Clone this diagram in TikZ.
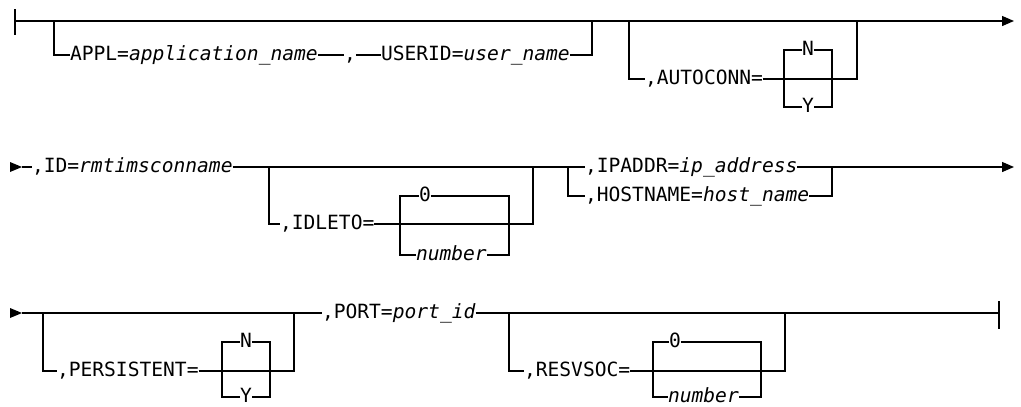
\documentclass[tikz,border=0pt]{standalone}
\usepackage{fontspec}
\setmonofont{DejaVu Sans Mono}
\usetikzlibrary{arrows.meta}
\begin{document}
\begin{tikzpicture}[x=1pt,y=-1pt,
  lbl/.style={font=\ttfamily\fontsize{19.6}{22}\selectfont, inner sep=0pt, outer sep=0pt,
    anchor=west, text height=10pt, text depth=0pt},
  ctr/.style={lbl, anchor=center},
  ln/.style={line width=1.3pt, line join=miter},
  tip/.style={ln, -{Triangle[length=12pt,width=10pt]}}]
\useasboundingbox (0,0) rectangle (1021,407);

% ---------------- Row 1 ----------------
\coordinate (r1bt) at (15,9);
\coordinate (r1bb) at (15,35);
\coordinate (r1s) at (15,21);
\coordinate (r1e) at (1014,21);
\draw[ln] (r1bt) -- (r1bb);
\draw[tip] (r1s) -- (r1e);

% APPL / USERID branch
\coordinate (a1) at (54,21);
\coordinate (a2) at (592,21);
\node[lbl] (appl) at (70,55) {APPL=\textit{application\_name}};
\node[lbl] (comma) at (344,55) {,};
\node[lbl] (userid) at (381,55) {USERID=\textit{user\_name}};
\draw[ln] (a1) |- (appl.west);
\draw[ln] (appl.east) -- (comma.west);
\draw[ln] (comma.east) -- (userid.west);
\draw[ln] (userid.east) -| (a2);

% AUTOCONN branch
\coordinate (b1) at (629,21);
\coordinate (b2) at (857,21);
\node[lbl] (autoconn) at (645,79) {,AUTOCONN=};
\coordinate (bml) at (784,79);
\coordinate (bmr) at (832,79);
\coordinate (btl) at (784,50);
\coordinate (bbl) at (784,107);
\coordinate (btr) at (832,50);
\coordinate (bbr) at (832,107);
\node[ctr] (bn) at (808,50) {N};
\node[ctr] (by) at (808,107) {Y};
\draw[ln] (b1) |- (autoconn.west);
\draw[ln] (autoconn.east) -- (bml) -- (bmr) -| (b2);
\draw[ln] (bn.west) -- (btl) -- (bbl) -- (by.west);
\draw[ln] (bn.east) -- (btr) -- (bbr) -- (by.east);

% ---------------- Row 2 ----------------
\coordinate (r2a) at (10,162);
\coordinate (r2b) at (10,172);
\coordinate (r2c) at (22,167);
\fill (r2a) -- (r2c) -- (r2b) -- cycle;
\node[lbl] (id) at (32,167) {,ID=\textit{rmtimsconname}};
\draw[ln] (r2c) -- (id.west);
\coordinate (c1) at (269,167);
\coordinate (c2) at (533,167);
\coordinate (d1) at (568,167);
\coordinate (d2) at (832,167);
\node[lbl] (ipaddr) at (585,167) {,IPADDR=\textit{ip\_address}};
\node[lbl] (hostname) at (585,196) {,HOSTNAME=\textit{host\_name}};
\coordinate (r2e) at (1014,167);
\draw[ln] (id.east) -- (c1) -- (c2) -- (d1) -- (ipaddr.west);
\draw[tip] (ipaddr.east) -- (r2e);
\draw[ln] (d1) |- (hostname.west);
\draw[ln] (hostname.east) -| (d2);

% IDLETO branch
\node[lbl] (idleto) at (280,224) {,IDLETO=};
\coordinate (cml) at (400,224);
\coordinate (cmr) at (509,224);
\coordinate (ctl) at (400,196);
\coordinate (cbl) at (400,255);
\coordinate (ctr) at (509,196);
\coordinate (cbr) at (509,255);
\node[lbl] (czero) at (419,196) {0};
\node[lbl] (cnum) at (416,255) {\textit{number}};
\draw[ln] (c1) |- (idleto.west);
\draw[ln] (idleto.east) -- (cml) -- (cmr) -| (c2);
\draw[ln] (czero.west) -- (ctl) -- (cbl) -- (cnum.west);
\draw[ln] (czero.east) -- (ctr) -- (cbr) -- (cnum.east);

% ---------------- Row 3 ----------------
\coordinate (r3a) at (10,308);
\coordinate (r3b) at (10,318);
\coordinate (r3c) at (22,313);
\fill (r3a) -- (r3c) -- (r3b) -- cycle;
\coordinate (e1) at (43,313);
\coordinate (e2) at (294,313);
\node[lbl] (port) at (322,313) {,PORT=\textit{port\_id}};
\draw[ln] (r3c) -- (e1) -- (e2) -- (port.west);
\coordinate (f1) at (509,313);
\coordinate (f2) at (785,313);
\coordinate (r3e) at (999,313);
\coordinate (r3bt) at (999,301);
\coordinate (r3bb) at (999,329);
\draw[ln] (port.east) -- (f1) -- (f2) -- (r3e);
\draw[ln] (r3bt) -- (r3bb);

% PERSISTENT branch
\node[lbl] (persist) at (57,371) {,PERSISTENT=};
\coordinate (eml) at (222,371);
\coordinate (emr) at (270,371);
\coordinate (etl) at (222,342);
\coordinate (ebl) at (222,397);
\coordinate (etr) at (270,342);
\coordinate (ebr) at (270,397);
\node[ctr] (en) at (246,342) {N};
\node[ctr] (ey) at (246,397) {Y};
\draw[ln] (e1) |- (persist.west);
\draw[ln] (persist.east) -- (eml) -- (emr) -| (e2);
\draw[ln] (en.west) -- (etl) -- (ebl) -- (ey.west);
\draw[ln] (en.east) -- (etr) -- (ebr) -- (ey.east);

% RESVSOC branch
\node[lbl] (resvsoc) at (524,371) {,RESVSOC=};
\coordinate (fml) at (653,371);
\coordinate (fmr) at (761,371);
\coordinate (ftl) at (653,342);
\coordinate (fbl) at (653,397);
\coordinate (ftr) at (761,342);
\coordinate (fbr) at (761,397);
\node[lbl] (fzero) at (669,342) {0};
\node[lbl] (fnum) at (668,397) {\textit{number}};
\draw[ln] (f1) |- (resvsoc.west);
\draw[ln] (resvsoc.east) -- (fml) -- (fmr) -| (f2);
\draw[ln] (fzero.west) -- (ftl) -- (fbl) -- (fnum.west);
\draw[ln] (fzero.east) -- (ftr) -- (fbr) -- (fnum.east);
\end{tikzpicture}
\end{document}
